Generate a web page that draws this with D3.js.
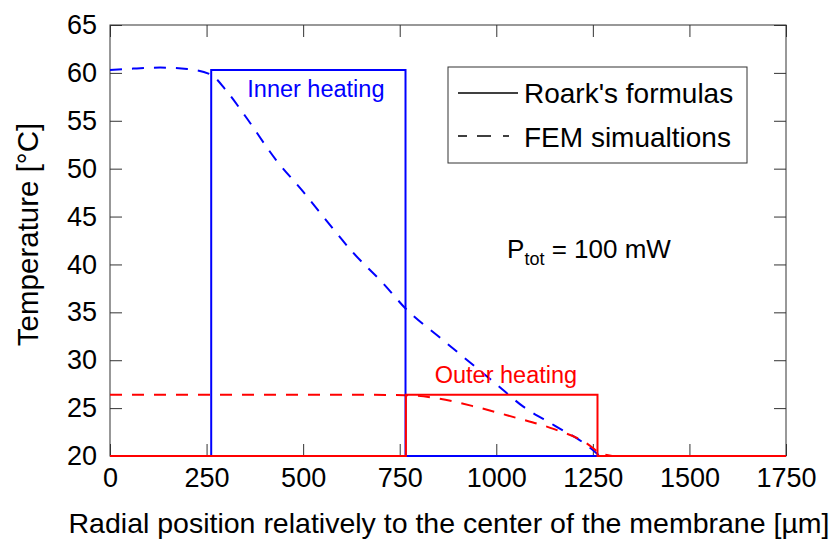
<!DOCTYPE html>
<html>
<head>
<meta charset="utf-8">
<script src="https://cdn.jsdelivr.net/npm/d3@7"></script>
<style>
  body { margin: 0; background: #fff; }
  svg text { font-family: "Liberation Sans", Arial, sans-serif; }
</style>
</head>
<body>
<div id="chart"></div>
<script>
// ticks
const xTicks = [0, 250, 500, 750, 1000, 1250, 1500, 1750];
const yTicks = [20, 25, 30, 35, 40, 45, 50, 55, 60, 65];

// Roark's formulas (solid, piecewise)
const innerRoarkX = [0, 262, 262, 765, 765, 1265];
const innerRoarkT = [20, 20, 60.3, 60.3, 20, 20];
const outerRoarkX = [0, 766, 766, 1262, 1262, 1750];
const outerRoarkT = [20, 20, 26.4, 26.4, 20, 20];

// FEM simulations (dashed)
const innerFemX = [0, 60, 130, 200, 262, 300, 350, 430, 500, 540, 630, 710, 765, 850, 925, 1000, 1070, 1150, 1235, 1265];
const innerFemT = [60.3, 60.45, 60.55, 60.4, 59.8, 58.2, 55.5, 50.9, 47.6, 45.6, 41.2, 37.9, 35.4, 32.5, 30.0, 27.5, 25.15, 23.2, 21.1, 20.1];
const outerFemX = [0, 200, 400, 600, 765, 850, 950, 1050, 1150, 1235, 1265, 1300];
const outerFemT = [26.4, 26.4, 26.4, 26.4, 26.35, 26.0, 25.1, 24.0, 22.8, 21.3, 20.4, 20];

const W = 832, H = 542;
const margin = { top: 25, right: 46, bottom: 86, left: 110 };
const w = W - margin.left - margin.right;
const h = H - margin.top - margin.bottom;
const axisCol = "#333";
const BLUE = "#0000ff", RED = "#ff0000";

const svg = d3.select("#chart").append("svg").attr("width", W).attr("height", H);
const g = svg.append("g").attr("transform", `translate(${margin.left},${margin.top})`);

const x = d3.scaleLinear().domain([0, 1750]).range([0, w]);
const y = d3.scaleLinear().domain([20, 65]).range([h, 0]);

const zip = (xs, ts) => xs.map((v, i) => [v, ts[i]]);
const straight = d3.line().x(d => x(d[0])).y(d => y(d[1]));
const smooth = d3.line().x(d => x(d[0])).y(d => y(d[1])).curve(d3.curveMonotoneX);

/* axes: inward ticks on all four sides (drawn first, data sits on top) */
const tickLen = 12;
function styleAxis(sel) {
  sel.select(".domain").remove();
  sel.selectAll(".tick line").attr("stroke", axisCol).attr("stroke-width", 1);
  sel.selectAll(".tick text").attr("fill", "#000").attr("font-size", 27);
}
g.append("g").attr("transform", `translate(0,${h})`)
  .call(d3.axisBottom(x).tickValues(xTicks).tickFormat(d3.format("d"))
    .tickSizeInner(-tickLen).tickSizeOuter(0).tickPadding(12))
  .call(styleAxis);
g.append("g")
  .call(d3.axisTop(x).tickValues(xTicks).tickSizeInner(-tickLen).tickSizeOuter(0).tickFormat(""))
  .call(styleAxis);
g.append("g")
  .call(d3.axisLeft(y).tickValues(yTicks).tickSizeInner(-tickLen).tickSizeOuter(0).tickPadding(13))
  .call(styleAxis);
g.append("g").attr("transform", `translate(${w},0)`)
  .call(d3.axisRight(y).tickValues(yTicks).tickSizeInner(-tickLen).tickSizeOuter(0).tickFormat(""))
  .call(styleAxis);

g.append("rect").attr("width", w).attr("height", h)
  .attr("fill", "none").attr("stroke", axisCol).attr("stroke-width", 1);

/* data lines */
g.append("path").attr("d", smooth(zip(innerFemX, innerFemT)))
  .attr("fill", "none").attr("stroke", BLUE).attr("stroke-width", 2).attr("stroke-dasharray", "12 10");
g.append("path").attr("d", smooth(zip(outerFemX, outerFemT)))
  .attr("fill", "none").attr("stroke", RED).attr("stroke-width", 2).attr("stroke-dasharray", "12 10");
g.append("path").attr("d", straight(zip(innerRoarkX, innerRoarkT)))
  .attr("fill", "none").attr("stroke", BLUE).attr("stroke-width", 2);
g.append("path").attr("d", straight(zip(outerRoarkX, outerRoarkT)))
  .attr("fill", "none").attr("stroke", RED).attr("stroke-width", 2);

/* axis titles */
svg.append("text").attr("x", margin.left + w / 2 + 1).attr("y", 533)
  .attr("text-anchor", "middle").attr("font-size", 28.5)
  .text("Radial position relatively to the center of the membrane [µm]");
svg.append("text").attr("transform", `translate(38,${margin.top + h / 2 - 6}) rotate(-90)`)
  .attr("text-anchor", "middle").attr("font-size", 29.5)
  .text("Temperature [°C]");

/* annotations */
g.append("text").attr("x", x(533)).attr("y", y(57.5)).attr("font-size", 23.5).attr("fill", BLUE)
  .attr("text-anchor", "middle").text("Inner heating");
g.append("text").attr("x", x(1025)).attr("y", y(27.6)).attr("font-size", 23.5).attr("fill", RED)
  .attr("text-anchor", "middle").text("Outer heating");

const ptot = g.append("text").attr("x", x(1028)).attr("y", y(40.7)).attr("font-size", 26);
ptot.append("tspan").text("P");
ptot.append("tspan").attr("font-size", 18).attr("dy", 7).text("tot");
ptot.append("tspan").attr("dy", -7).text(" = 100 mW");

/* legend */
const lg = svg.append("g").attr("transform", "translate(448,67)");
lg.append("rect").attr("width", 299).attr("height", 96).attr("fill", "#fff").attr("stroke", axisCol);
lg.append("line").attr("x1", 10).attr("x2", 70).attr("y1", 26).attr("y2", 26)
  .attr("stroke", "#000").attr("stroke-width", 1.5);
lg.append("line").attr("x1", 10).attr("x2", 70).attr("y1", 69).attr("y2", 69)
  .attr("stroke", "#000").attr("stroke-width", 1.5).attr("stroke-dasharray", "9 10 14 12 6");
lg.append("text").attr("x", 76).attr("y", 36).attr("font-size", 28).text("Roark's formulas");
lg.append("text").attr("x", 76).attr("y", 80).attr("font-size", 28).text("FEM simualtions");
</script>
</body>
</html>
